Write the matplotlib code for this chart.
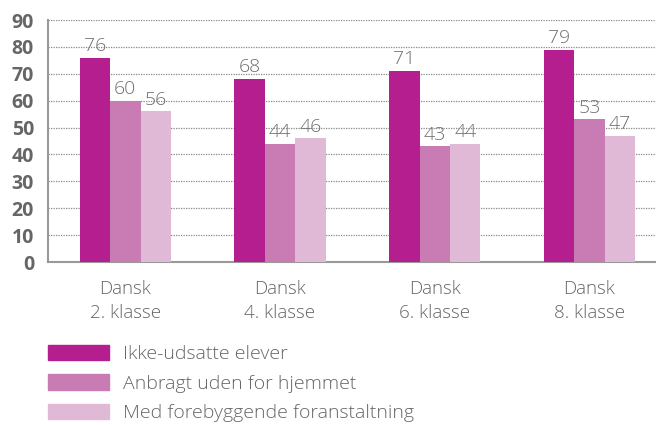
import numpy as np
import matplotlib.pyplot as plt
from matplotlib.patches import Patch

plt.rcParams['font.family'] = ['Open Sans', 'DejaVu Sans']

groups = ["Dansk\n2. klasse", "Dansk\n4. klasse", "Dansk\n6. klasse", "Dansk\n8. klasse"]
series = ["Ikke-udsatte elever", "Anbragt uden for hjemmet", "Med forebyggende foranstaltning"]
ikke_udsatte = [76, 68, 71, 79]
anbragt = [60, 44, 43, 53]
forebyggende = [56, 46, 44, 47]
colors = ["#b51e8e", "#c97bb3", "#e0b9d6"]
grey = "#666666"

fig = plt.figure(figsize=(6.56, 4.25), dpi=100)
ax = fig.add_axes([48/656, 1-262/425, 1-48/656, (262-20)/425])

x = np.arange(len(groups))
w = 0.197
for i, (vals, c) in enumerate(zip([ikke_udsatte, anbragt, forebyggende], colors)):
    pos = x + (i-1)*w
    ax.bar(pos, vals, width=w, color=c, zorder=3)
    for p, v in zip(pos, vals):
        ax.text(p, v+1, str(v), ha='center', va='bottom', fontsize=14, color="#707070",
                fontweight='light')

ax.set_ylim(0, 90)
ax.set_xlim(-0.5, 3.43)
ax.set_yticks(range(0, 91, 10))
ax.yaxis.grid(True, linestyle=(0, (1, 1)), color="#888888", linewidth=0.9, zorder=0)
ax.set_xticks(x)
ax.set_xticklabels(groups, fontsize=13.5, color=grey, linespacing=1.45, fontweight='light')
for lab in ax.get_yticklabels():
    lab.set_fontweight('bold')
    lab.set_fontsize(14)
    lab.set_color(grey)
ax.tick_params(length=0, pad=10)
ax.tick_params(axis='x', pad=13)
for s in ['top', 'right']:
    ax.spines[s].set_visible(False)
ax.spines['left'].set_color("#999999")
ax.spines['bottom'].set_color("#999999")
ax.spines['left'].set_linewidth(1.5)
ax.spines['bottom'].set_linewidth(1.5)

handles = [Patch(color=c) for c in colors]
leg = fig.legend(handles, series, loc='upper left', bbox_to_anchor=(30/656, 1-327/425),
                 frameon=False, prop={'size': 14, 'weight': 'light'},
                 handlelength=3.15, handleheight=0.88,
                 labelspacing=0.56, handletextpad=0.75)
for t in leg.get_texts():
    t.set_color(grey)

fig.savefig("out.png", dpi=100)
